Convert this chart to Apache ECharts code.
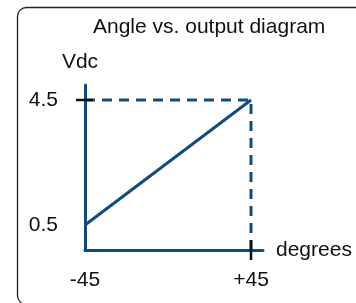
<!DOCTYPE html>
<html>
<head>
<meta charset="utf-8">
<script src="https://cdn.jsdelivr.net/npm/echarts@6/dist/echarts.min.js"></script>
<style>
  html, body { margin: 0; padding: 0; background: #fff; }
  #chart { width: 356px; height: 303px; }
</style>
</head>
<body>
<div id="chart"></div>
<script>
// transfer curve: angle (degrees) -> output voltage
const degrees = [-45, 45]
const vdc = [0.5, 4.5]

// dashed guide from the 4.5 V level over to +45 and down to the axis
const guideX = [-45, 45, 45]
const guideY = [4.5, 4.5, -0.3]

const xTickValues = [-45, 45]
const xTickLabels = ['-45', '+45']
const yTickValues = [4.5, 0.5]
const yTickLabels = ['4.5', '0.5']
const xMarks = [45]
const yMarks = [4.5]

const blue = '#124b7f'
const font = 'Liberation Sans, Arial, Helvetica, sans-serif'

const chart = echarts.init(document.getElementById('chart'), null, { renderer: 'canvas' })

function markSeries(values, dir) {
  return {
    type: 'custom',
    z: 5,
    silent: true,
    data: values.map(v => (dir === 'x' ? [v, -0.3] : [-45, v])),
    renderItem: (params, api) => {
      const p = api.coord([api.value(0), api.value(1)])
      const shape = dir === 'x'
        ? { x1: p[0], y1: p[1] - 10, x2: p[0], y2: p[1] + 10 }
        : { x1: p[0] - 9, y1: p[1], x2: p[0] + 8, y2: p[1] }
      return { type: 'line', shape, style: { stroke: '#111', lineWidth: 2.5 } }
    }
  }
}

const option = {
  animation: false,
  title: {
    text: 'Angle vs. output diagram',
    left: 93,
    top: 17,
    padding: 0,
    textStyle: { color: '#111', fontSize: 21, fontWeight: 'normal', fontFamily: font }
  },
  graphic: [
    {
      type: 'rect',
      shape: { x: 17.5, y: 7.5, width: 380, height: 297, r: 9 },
      style: { fill: 'none', stroke: '#222', lineWidth: 1.3 },
      z: 10
    }
  ],
  grid: { left: 85, top: 85, width: 178, height: 165, containLabel: false },
  xAxis: {
    type: 'value',
    min: -45,
    max: 51.5,
    name: 'degrees',
    nameLocation: 'end',
    nameGap: 13,
    nameTextStyle: { color: '#111', fontSize: 21, fontFamily: font, padding: [0, 0, 10, 0] },
    axisLine: { show: true, onZero: false, lineStyle: { color: blue, width: 3 } },
    axisTick: { show: false },
    splitLine: { show: false },
    axisLabel: {
      customValues: xTickValues,
      formatter: v => xTickLabels[xTickValues.indexOf(v)],
      color: '#111',
      fontSize: 21,
      fontFamily: font,
      margin: 20
    }
  },
  yAxis: {
    type: 'value',
    min: -0.3,
    max: 4.98,
    name: 'Vdc',
    nameLocation: 'end',
    nameGap: 12,
    nameTextStyle: { color: '#111', fontSize: 21, fontFamily: font, padding: [0, 10, 0, 0] },
    axisLine: { show: true, onZero: false, lineStyle: { color: blue, width: 3 } },
    axisTick: { show: false },
    splitLine: { show: false },
    axisLabel: {
      customValues: yTickValues,
      formatter: v => yTickLabels[yTickValues.indexOf(v)],
      color: '#111',
      fontSize: 21,
      fontFamily: font,
      margin: 27
    }
  },
  series: [
    {
      type: 'line',
      data: guideX.map((x, i) => [x, guideY[i]]),
      symbol: 'none',
      lineStyle: { color: blue, width: 3, type: [10, 7] },
      z: 3
    },
    {
      type: 'line',
      data: degrees.map((x, i) => [x, vdc[i]]),
      symbol: 'none',
      lineStyle: { color: blue, width: 3 },
      z: 4
    },
    markSeries(xMarks, 'x'),
    markSeries(yMarks, 'y')
  ]
}

chart.setOption(option)
</script>
</body>
</html>
